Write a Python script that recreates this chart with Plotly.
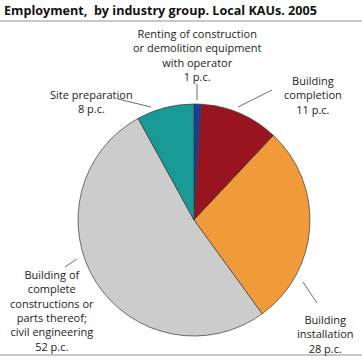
import plotly.graph_objects as go

W, H = 362, 363

categories = [
    "Renting of construction<br>or demolition equipment<br>with operator",
    "Building<br>completion",
    "Building<br>installation",
    "Building of<br>complete<br>constructions or<br>parts thereof;<br>civil engineering",
    "Site preparation",
]
values = [1, 11, 28, 52, 8]
colors = ["#1b3f94", "#98141e", "#f09a3a", "#cccccc", "#1a9a97"]

def px(x):
    return x / W

def py(y):
    return 1 - y / H

fig = go.Figure(go.Pie(
    labels=categories,
    values=values,
    sort=False,
    direction="clockwise",
    rotation=0,
    marker=dict(colors=colors, line=dict(color="#3a3a3a", width=0.7)),
    textinfo="none",
    hoverinfo="label+value",
    showlegend=False,
    domain=dict(x=[px(78), px(310)], y=[py(336), py(104)]),
))

# label placement (pixel centres) and leader lines
label_pos = [(197, 54.5), (313, 94.5), (325, 333.5), (52, 310.5), (91, 101.5)]
leaders = [((197, 84), (197, 100)), ((272, 90), (238, 107)), ((303, 282), (317, 303)),
           ((65, 267), (77, 259)), ((118, 99), (151, 107))]

annotations = [dict(
    x=px(2), y=py(11), xref="paper", yref="paper", xanchor="left", yanchor="middle",
    text="<b>Employment,  by industry group. Local KAUs. 2005</b>", showarrow=False,
    font=dict(family="Open Sans", size=12.6, color="#111111"),
)]
for cat, v, (lx, ly) in zip(categories, values, label_pos):
    annotations.append(dict(
        x=px(lx), y=py(ly), xref="paper", yref="paper", xanchor="center", yanchor="middle",
        text=f"{cat}<br>{v} p.c.", showarrow=False,
        font=dict(family="Open Sans", size=11, color="#222222"),
    ))

shapes = [
    dict(type="line", xref="paper", yref="paper", x0=0, x1=1, y0=py(21), y1=py(21),
         line=dict(color="#c8c8c8", width=2)),
    dict(type="line", xref="paper", yref="paper", x0=0, x1=1, y0=py(355), y1=py(355),
         line=dict(color="#c8c8c8", width=2)),
]
for (a, b) in leaders:
    shapes.append(dict(type="line", xref="paper", yref="paper",
                       x0=px(a[0]), y0=py(a[1]), x1=px(b[0]), y1=py(b[1]),
                       line=dict(color="#444444", width=0.8)))

fig.update_layout(
    width=W, height=H,
    margin=dict(l=0, r=0, t=0, b=0),
    paper_bgcolor="white", plot_bgcolor="white",
    annotations=annotations, shapes=shapes,
)

fig.write_html("out.html", config={"displayModeBar": False},
               post_script="document.body.style.margin='0';document.body.style.padding='0';")
